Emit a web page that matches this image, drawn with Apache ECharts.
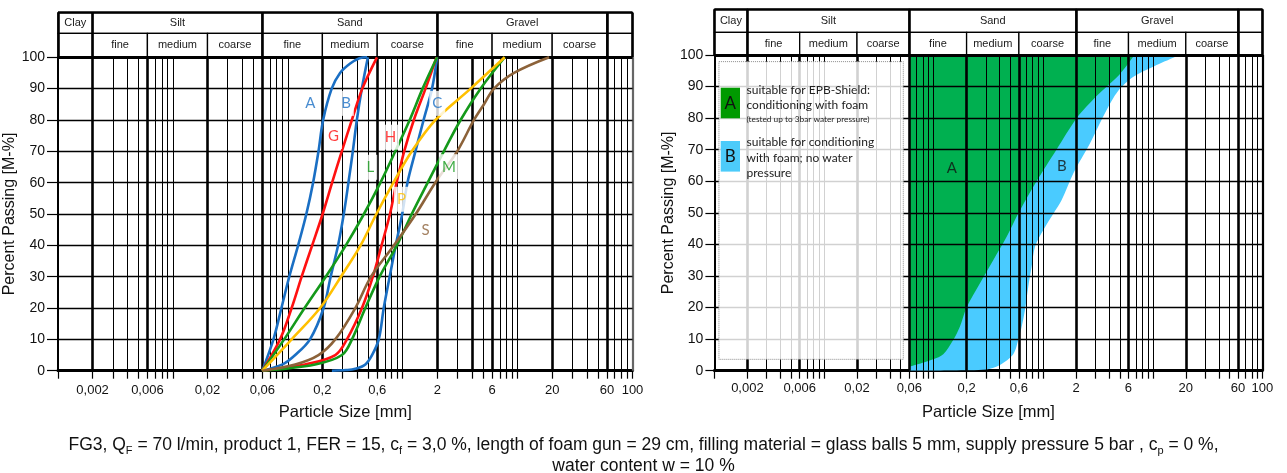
<!DOCTYPE html>
<html>
<head>
<meta charset="utf-8">
<script src="https://cdn.jsdelivr.net/npm/echarts@6/dist/echarts.min.js"></script>
<style>html,body{margin:0;padding:0;background:#fff}#c{width:1287px;height:473px}</style>
</head>
<body>
<div id="c"></div>
<script>
// ---------- axis / tick data ----------
const tickValues = [0.002, 0.006, 0.02, 0.06, 0.2, 0.6, 2, 6, 20, 60, 100];
const tickLabels = ['0,002', '0,006', '0,02', '0,06', '0,2', '0,6', '2', '6', '20', '60', '100'];
const fractions = ['Clay', 'Silt', 'Sand', 'Gravel', ''];
const fractionBounds = [0.001, 0.002, 0.06, 2, 60, 100];
const subFractions = ['', 'fine', 'medium', 'coarse', 'fine', 'medium', 'coarse', 'fine', 'medium', 'coarse', ''];
const subBounds = [0.001, 0.002, 0.006, 0.02, 0.06, 0.2, 0.6, 2, 6, 20, 60, 100];

// ---------- left chart: grading curves [particle size mm, percent passing] ----------
const curveA = [[0.06,0],[0.075,10],[0.088,20],[0.103,30],[0.123,40],[0.145,50],[0.166,60],[0.185,70],[0.203,80],[0.241,90],[0.285,95],[0.349,98],[0.42,99.7],[0.49,100]];
const curveB = [[0.06,0],[0.09,2],[0.116,5],[0.156,10],[0.205,20],[0.236,30],[0.274,40],[0.307,50],[0.337,60],[0.368,70],[0.399,80],[0.441,90],[0.498,100]];
const curveC = [[0.242,0],[0.32,0.2],[0.387,0.6],[0.473,2],[0.541,5],[0.619,10],[0.684,20],[0.77,30],[0.87,40],[0.99,50],[1.1,60],[1.29,70],[1.52,80],[1.8,90],[1.99,100]];
const curveG = [[0.06,0],[0.0856,10],[0.108,20],[0.132,30],[0.163,40],[0.201,50],[0.243,60],[0.295,70],[0.361,80],[0.445,90],[0.597,100]];
const curveH = [[0.06,0],[0.141,2],[0.259,5],[0.327,10],[0.442,20],[0.55,30],[0.655,40],[0.775,50],[0.885,60],[1.03,70],[1.25,80],[1.58,90],[1.97,100]];
const curveL = [[0.06,0],[0.093,10],[0.14,20],[0.214,30],[0.32,40],[0.46,50],[0.64,60],[0.862,70],[1.15,80],[1.49,90],[1.99,100]];
const curveM = [[0.06,0],[0.173,2],[0.296,5],[0.362,10],[0.473,20],[0.63,30],[0.89,40],[1.2,50],[1.65,60],[2.28,70],[3.19,80],[4.76,90],[7.72,100]];
const curveP = [[0.06,0],[0.108,10],[0.191,20],[0.29,30],[0.43,40],[0.59,50],[0.83,60],[1.2,70],[1.93,80],[3.9,90],[7.72,100]];
const curveS = [[0.06,0],[0.116,2],[0.185,5],[0.259,10],[0.387,20],[0.53,30],[0.84,40],[1.3,50],[1.92,60],[2.98,70],[4.17,80],[5.1,85],[6.23,90],[9.31,95],[18.8,100]];

const curveNames = ['A', 'B', 'C', 'G', 'H', 'L', 'M', 'P', 'S'];
const labelSize = [0.157, 0.321, 2.0, 0.25, 0.781, 0.523, 2.53, 0.975, 1.58];
const labelPassing = [85.3, 85.3, 85.3, 74.7, 74.5, 64.9, 65.1, 54.7, 44.9];

// ---------- right chart: application ranges ----------
const rangeA = [[0.06,1.2],[0.0994,3.6],[0.1225,5.2],[0.151,9.7],[0.174,14],[0.2,20],[0.265,27.7],[0.35,35],[0.464,42.4],[0.592,49.8],[0.87,60],[1.32,70],[2.02,80],[3.07,87],[5.02,94],[6.8,100]];
const rangeB = [[0.06,0],[0.15,0.1],[0.305,0.4],[0.403,1.8],[0.533,5.2],[0.592,9.7],[0.636,13.9],[0.682,19.2],[0.731,26.6],[0.784,32.9],[0.842,39.3],[1.0,44.5],[1.24,49.8],[1.47,54],[1.88,62.5],[2.67,72],[3.53,80.5],[4.68,88],[6.6,93],[10.1,96.3],[17.5,100]];
const rangeNames = ['A', 'B'];
const rangeLabelSize = [0.147, 1.48];
const rangeLabelPassing = [64.2, 64.8];

// ---------- styling ----------
const FONT = "'Liberation Sans', Arial, sans-serif";
const CAL = "Lato, 'Open Sans', sans-serif";
const BLUE = '#1a6fc4', RED = '#ff1010', GREEN = '#14991a', YEL = '#ffc000', BROWN = '#8c6239';
const curveColors = { A: BLUE, B: BLUE, C: BLUE, G: RED, H: RED, L: GREEN, M: GREEN, P: YEL, S: BROWN };
const curveData = { A: curveA, B: curveB, C: curveC, G: curveG, H: curveH, L: curveL, M: curveM, P: curveP, S: curveS };

function tickLabel(v) {
  let best = 0, bd = 1e9;
  tickValues.forEach((t, i) => { const d = Math.abs(Math.log10(v) - Math.log10(t)); if (d < bd) { bd = d; best = i; } });
  return tickLabels[best];
}
// decade gridlines 1..9 x 10^k
const gridValues = [];
for (let k = -3; k <= 1; k++) for (let m = 1; m <= 9; m++) {
  const v = Number((m * Math.pow(10, k)).toPrecision(6));
  if (v > 0.001) gridValues.push(v);
}
const tickPositions = [0.001].concat(gridValues, [100]);

const grids = [], xAxes = [], yAxes = [], series = [];

function addChart(o) {
  const h = grids.length;
  grids.push({ left: o.left, top: o.hdrTop, width: o.width, height: o.hdrHeight, containLabel: false, outerBoundsMode: 'none' });
  const p = grids.length;
  grids.push({ left: o.left, top: o.plotTop, width: o.width, height: o.plotHeight, containLabel: false, outerBoundsMode: 'none' });
  xAxes.push({ type: 'log', logBase: 10, min: 0.001, max: 100, gridIndex: h, show: false });
  yAxes.push({ type: 'value', min: 0, max: 1, gridIndex: h, show: false });
  xAxes.push({
    type: 'log', logBase: 10, min: 0.001, max: 100, gridIndex: p,
    axisLine: { show: true, onZero: false, lineStyle: { color: '#000', width: 3 } },
    axisTick: { show: true, customValues: tickPositions, length: 8, lineStyle: { color: '#000', width: 1.2 } },
    axisLabel: { show: true, customValues: tickValues, formatter: v => tickLabel(v), margin: o.xLabelMargin, fontSize: 13, color: '#111', fontFamily: FONT, hideOverlap: false },
    splitLine: { show: false }, minorTick: { show: false }, minorSplitLine: { show: false },
    name: 'Particle Size [mm]', nameLocation: 'middle', nameGap: 33,
    nameTextStyle: { fontSize: 16.5, color: '#111', fontFamily: FONT }
  });
  yAxes.push({
    type: 'value', min: 0, max: 100, interval: 10, gridIndex: p,
    axisLine: { show: true, onZero: false, lineStyle: { color: '#000', width: 2 } },
    axisTick: { show: true, inside: false, length: o.yTickLen, lineStyle: { color: '#000', width: 1.2 } },
    axisLabel: { margin: o.yLabelMargin, fontSize: 14, color: '#111', fontFamily: FONT },
    splitLine: { show: false },
    name: 'Percent Passing [M-%]', nameLocation: 'middle', nameGap: o.yNameGap,
    nameTextStyle: { fontSize: 16, color: '#111', fontFamily: FONT }
  });

  // header cells
  const cells = [];
  for (let i = 0; i < fractions.length; i++)
    cells.push([{ name: fractions[i], xAxis: fractionBounds[i], yAxis: o.split }, { xAxis: fractionBounds[i + 1], yAxis: 1 }]);
  for (let i = 0; i < subFractions.length; i++)
    cells.push([{ name: subFractions[i], xAxis: subBounds[i], yAxis: 0 }, { xAxis: subBounds[i + 1], yAxis: o.split }]);
  series.push({
    type: 'line', xAxisIndex: h, yAxisIndex: h, data: [], silent: true, z: 2,
    markArea: {
      silent: true, z: 2,
      label: { show: true, position: 'inside', fontSize: 11, color: '#1a1a1a', fontFamily: FONT },
      itemStyle: { color: '#fff', borderColor: '#000', borderWidth: 1.3 },
      data: cells
    },
    markLine: {
      silent: true, z: 3, precision: 10, symbol: ['none', 'none'], label: { show: false },
      lineStyle: { color: '#000', width: 2.6, type: 'solid' },
      data: fractionBounds.map(v => ({ xAxis: v })).concat([{ yAxis: 1 }])
    }
  });

  // plot gridlines
  const lines = gridValues.map(v => {
    const thick = o.thick.some(t => Math.abs(Math.log10(t) - Math.log10(v)) < 1e-6);
    return { xAxis: v, lineStyle: { width: thick ? 2.6 : 1, color: '#000', type: 'solid' } };
  });
  lines.push({ xAxis: 100, lineStyle: { width: 2.2, color: o.edgeColor, type: 'solid' } });
  for (let v = 10; v < 100; v += 10) lines.push({ yAxis: v, lineStyle: { width: 1.3, color: '#000', type: 'solid' } });
  lines.push({ yAxis: 100, lineStyle: { width: 3, color: '#000', type: 'solid' } });
  series.push({
    type: 'line', xAxisIndex: p, yAxisIndex: p, data: [], silent: true, z: 3,
    markLine: { silent: true, z: 3, precision: 10, symbol: ['none', 'none'], label: { show: false }, lineStyle: { type: 'solid', color: '#000' }, data: lines }
  });
  return p;
}

const pL = addChart({ left: 58, width: 574.5, hdrTop: 12.7, hdrHeight: 44.6, plotTop: 57.3, plotHeight: 313.4, split: 0.538,
  thick: [0.002, 0.006, 0.02, 0.06, 0.2, 0.6, 2, 4, 6, 20, 60], edgeColor: '#666', yNameGap: 35, yLabelMargin: 13, yTickLen: 11, xLabelMargin: 13 });
const pR = addChart({ left: 714.4, width: 548, hdrTop: 9.3, hdrHeight: 45.7, plotTop: 55, plotHeight: 315.7, split: 0.497,
  thick: [0.002, 0.006, 0.02, 0.06, 0.2, 0.6, 2, 6, 20, 60], edgeColor: '#000', yNameGap: 26, yLabelMargin: 11, yTickLen: 9, xLabelMargin: 11 });

// left chart curves
curveNames.forEach(n => {
  series.push({
    type: 'line', name: n, xAxisIndex: pL, yAxisIndex: pL, data: curveData[n], z: 4, silent: true,
    smooth: 0.35, showSymbol: false, symbol: 'none',
    lineStyle: { color: curveColors[n], width: 2.6 }, itemStyle: { color: curveColors[n] }
  });
});
series.push({
  type: 'scatter', xAxisIndex: pL, yAxisIndex: pL, z: 6, silent: true, symbolSize: 1,
  itemStyle: { color: 'rgba(0,0,0,0)' },
  label: { show: true, position: 'inside', formatter: '{b}', fontSize: 15, fontFamily: CAL, backgroundColor: '#fff', padding: [5, 3] },
  data: curveNames.map((n, i) => ({ name: n, value: [labelSize[i], labelPassing[i]], label: { color: curveColors[n] } }))
});

// right chart ranges (B behind A)
series.push({
  type: 'line', xAxisIndex: pR, yAxisIndex: pR, data: rangeB, z: 1, silent: true,
  smooth: 0.3, showSymbol: false, symbol: 'none',
  lineStyle: { width: 0, color: '#4acbff' }, areaStyle: { color: '#4acbff', opacity: 1, origin: 'end' }
});
series.push({
  type: 'line', xAxisIndex: pR, yAxisIndex: pR, data: rangeA, z: 1, silent: true,
  smooth: 0.3, showSymbol: false, symbol: 'none',
  lineStyle: { width: 0, color: '#00b050' }, areaStyle: { color: '#00b050', opacity: 1, origin: 'end' }
});
series.push({
  type: 'scatter', xAxisIndex: pR, yAxisIndex: pR, z: 6, silent: true, symbolSize: 1,
  itemStyle: { color: 'rgba(0,0,0,0)' },
  label: { show: true, position: 'inside', formatter: '{b}', fontSize: 15, fontFamily: CAL, color: '#111' },
  data: rangeNames.map((n, i) => ({ name: n, value: [rangeLabelSize[i], rangeLabelPassing[i]] }))
});
// legend box
series.push({
  type: 'line', xAxisIndex: pR, yAxisIndex: pR, data: [], z: 8, silent: true,
  markArea: {
    silent: true, z: 8, label: { show: false },
    itemStyle: { color: 'rgba(255,255,255,0.82)', borderColor: '#8a8a8a', borderWidth: 1, borderType: 'dotted' },
    data: [[{ xAxis: 0.0011, yAxis: 97.9 }, { xAxis: 0.0529, yAxis: 3.6 }]]
  }
});

const legendTxt = (text, y, size) => ({ type: 'text', z: 101, style: { text: text, x: 746.5, y: y, verticalAlign: 'middle', font: size + 'px ' + CAL, fill: '#222' } });

const option = {
  animation: false,
  backgroundColor: '#fff',
  title: [
    { left: 'center', top: 430, text: 'FG3, Q{s|F} = 70 l/min, product 1, FER = 15, c{s|f} = 3,0 %, length of foam gun = 29 cm, filling material = glass balls 5 mm, supply pressure 5 bar , c{s|p} = 0 %,',
      textStyle: { fontSize: 17.5, fontWeight: 'normal', color: '#111', fontFamily: FONT, lineHeight: 21,
        rich: { s: { fontSize: 11, verticalAlign: 'bottom', lineHeight: 21, color: '#111', fontFamily: FONT } } } },
    { left: 'center', top: 450.5, text: 'water content w = 10 %',
      textStyle: { fontSize: 17.5, fontWeight: 'normal', color: '#111', fontFamily: FONT, lineHeight: 21 } }
  ],
  grid: grids, xAxis: xAxes, yAxis: yAxes, series: series,
  graphic: [
    { type: 'rect', z: 100, shape: { x: 720.7, y: 87.7, width: 19.3, height: 30.6 }, style: { fill: '#009a00' } },
    { type: 'text', z: 101, style: { text: 'A', x: 730.3, y: 103.5, align: 'center', verticalAlign: 'middle', font: '17px ' + CAL, fill: '#111' } },
    legendTxt('suitable for EPB-Shield:', 90, 12),
    legendTxt('conditioning with foam', 105, 12),
    legendTxt('(tested up to 3bar water pressure)', 119.5, 8.3),
    { type: 'rect', z: 100, shape: { x: 720.7, y: 141, width: 19.3, height: 30.6 }, style: { fill: '#4ccbfa' } },
    { type: 'text', z: 101, style: { text: 'B', x: 730.3, y: 156.5, align: 'center', verticalAlign: 'middle', font: '17px ' + CAL, fill: '#111' } },
    legendTxt('suitable for conditioning', 142.3, 12),
    legendTxt('with foam; no water', 157.7, 12),
    legendTxt('pressure', 173.3, 12)
  ]
};

const chart = echarts.init(document.getElementById('c'), null, { renderer: 'canvas' });
chart.setOption(option);
</script>
</body>
</html>
